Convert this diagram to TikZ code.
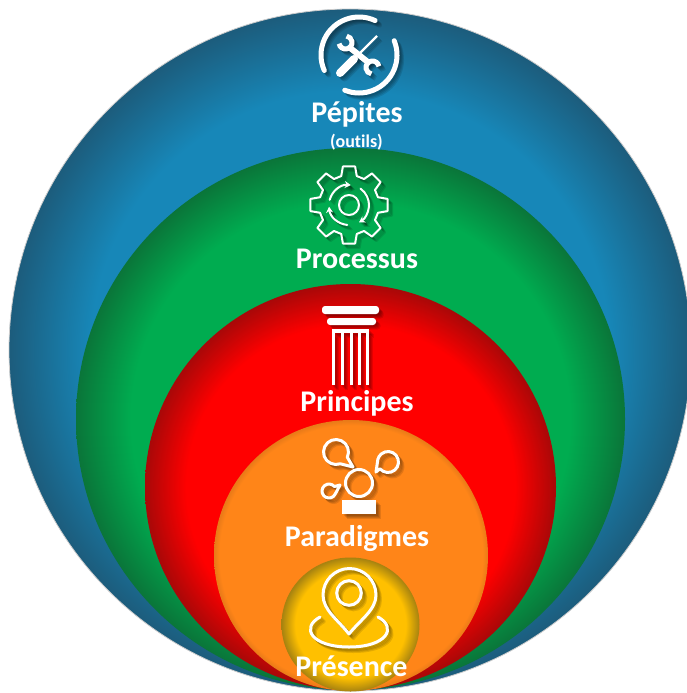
\documentclass[tikz,border=0pt]{standalone}
\usepackage{xcolor}
\usepackage{fontspec}
\setmainfont{Carlito}[Ligatures=NoCommon]
\usetikzlibrary{arrows.meta, calc}

\definecolor{blueMid}{HTML}{1787B8}
\definecolor{blueRim}{HTML}{1C5C7C}
\definecolor{greenMid}{HTML}{00AC50}
\definecolor{greenRim}{HTML}{0A7539}
\definecolor{redMid}{HTML}{FF0000}
\definecolor{redRim}{HTML}{A80808}
\definecolor{orangeMid}{HTML}{FF8518}
\definecolor{orangeRim}{HTML}{E87A18}
\definecolor{yellowMid}{HTML}{FFC000}
\definecolor{yellowRim}{HTML}{A68210}

\pgfdeclareradialshading{blueDisc}{\pgfpointorigin}{color(0bp)=(blueMid); color(19bp)=(blueMid); color(25bp)=(blueRim); color(50bp)=(blueRim)}
\pgfdeclareradialshading{greenDisc}{\pgfpointorigin}{color(0bp)=(greenMid); color(20bp)=(greenMid); color(25bp)=(greenRim); color(50bp)=(greenRim)}
\pgfdeclareradialshading{redDisc}{\pgfpointorigin}{color(0bp)=(redMid); color(20bp)=(redMid); color(25bp)=(redRim); color(50bp)=(redRim)}
\pgfdeclareradialshading{orangeDisc}{\pgfpointorigin}{color(0bp)=(orangeMid); color(24bp)=(orangeMid); color(25bp)=(orangeRim); color(50bp)=(orangeRim)}
\pgfdeclareradialshading{yellowDisc}{\pgfpointorigin}{color(0bp)=(yellowMid); color(20bp)=(yellowMid); color(25bp)=(yellowRim); color(50bp)=(yellowRim)}

\tikzset{
  lbl/.style={text=white, font=\bfseries\fontsize{30}{30}\selectfont, inner sep=0pt},
  lblsmall/.style={text=white, font=\bfseries\fontsize{18}{18}\selectfont, inner sep=0pt},
  ring/.style={draw, line width=5pt, line cap=round},
  thin icon/.style={draw, line width=2pt, line cap=round, line join=round},
  mid icon/.style={draw, line width=3pt, line cap=round, line join=round},
  cast/.style={shift={(#1,-#1)}, color=black, opacity=.11}
}

% Icones
\newcommand{\toolsicon}{
  \draw[ring] (359,-55) ++(65:38) arc (65:204:38);
  \draw[ring] (359,-55) ++(22:38) arc (22:-112:38);
  \draw[line width=8pt, line cap=round] (340,-73) -- (354,-59);
  \draw[line width=2.4pt] (354,-59) -- (377,-36);
  \draw[line width=6pt] (349,-47) -- (369,-63);
  \draw[line width=5pt] (345.5,-42.5) ++(190:6.5) arc (190:440:6.5);
  \draw[line width=5pt] (372.5,-67.5) ++(10:6.5) arc (10:260:6.5);
}
\newcommand{\gearicon}{
  \draw[thin icon] ($(349,-205)+(-15:30)$)
    \foreach \a in {0,45,...,315} {
      -- ($(349,-205)+(\a-15:30)$) -- ($(349,-205)+(\a-9:39)$)
      -- ($(349,-205)+(\a+9:39)$) -- ($(349,-205)+(\a+15:30)$)
    } -- cycle;
  \draw[thin icon] (349,-205) circle (10);
  \draw[thin icon, -{Stealth[length=6pt,width=7pt]}] (349,-205) ++(165:20) arc (165:85:20);
  \draw[thin icon, -{Stealth[length=6pt,width=7pt]}] (349,-205) ++(55:20) arc (55:-60:20);
  \draw[thin icon, -{Stealth[length=6pt,width=7pt]}] (349,-205) ++(-95:20) arc (-95:-175:20);
}
\newcommand{\columnicon}{
  \fill[rounded corners=3pt] (322,-306) rectangle (379,-314);
  \fill[rounded corners=3pt] (327,-318) rectangle (376,-325);
  \fill (332,-329) rectangle (369,-333);
  \foreach \c in {333,342,351,359,367}
    \fill (\c-1.5,-333) rectangle (\c+1.5,-385);
}
\newcommand{\bubbleicon}{
  \draw[mid icon] (336,-452) ++(-25:12.5) arc (-25:290:12.5) -- (353,-467) -- cycle;
  \draw[mid icon] (388,-462) ++(-140:10.5) arc (-140:165:10.5) -- (376,-472) -- cycle;
  \draw[mid icon] (359,-483) circle (13.5);
  \draw[mid icon] (329,-491) ++(40:7) arc (40:340:7) -- (340,-485) -- cycle;
  \fill (342,-500) rectangle (376,-514);
}
\newcommand{\pinicon}{
  \draw[mid icon] (349,-634) .. controls (338,-620) and (323,-610) .. (323,-595)
    arc (180:0:26.5) .. controls (376,-610) and (360,-620) .. (349,-634) -- cycle;
  \draw[mid icon] (349,-593) circle (12.3);
  \draw[mid icon] (320,-617) .. controls (300,-628) and (312,-647) .. (349,-647)
    .. controls (386,-647) and (398,-628) .. (378,-617);
}
\newcommand{\allicons}{\toolsicon \gearicon \columnicon \bubbleicon \pinicon}

\begin{document}
\begin{tikzpicture}[x=1pt, y=1pt]
\useasboundingbox (0,0) rectangle (687,-693);
\clip (0,0) rectangle (687,-693);
% Disques
\shade[shading=blueDisc, draw=black!20, line width=.8pt] (350,-350) circle (341);
\shade[shading=greenDisc] (350.5,-419) ellipse (274.5 and 271);
\shade[shading=redDisc] (350.5,-487) ellipse (205.5 and 203);
\shade[shading=orangeDisc] (351,-555.5) ellipse (137 and 135.5);
\shade[shading=yellowDisc] (350.5,-624.5) ellipse (69 and 67);
% Icones
\foreach \d in {1.5,2.5,3.5,4.5}
  \begin{scope}[cast=\d] \allicons \end{scope};
\begin{scope}[color=white] \allicons \end{scope}
% Textes
\node[lbl] (pepites) at (357,-114) {Pépites};
\node[lblsmall] (outils) at (356.5,-142) {(outils)};
\node[lbl] (processus) at (357,-259) {Processus};
\node[lbl] (principes) at (357,-403) {Principes};
\node[lbl] (paradigmes) at (357,-539) {Paradigmes};
\node[lbl] (presence) at (351.5,-666) {Présence};
\end{tikzpicture}
\end{document}
